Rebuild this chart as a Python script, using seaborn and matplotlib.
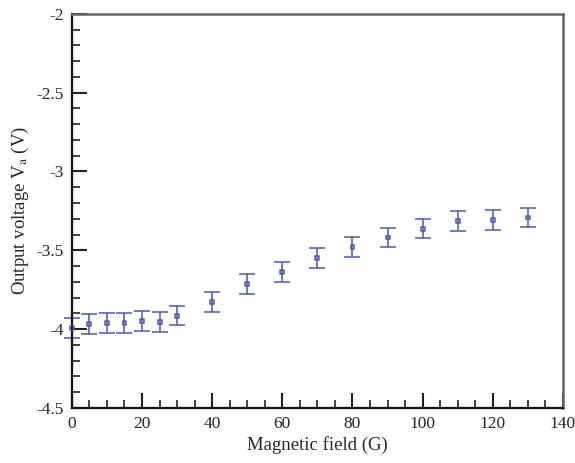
import matplotlib
matplotlib.use("Agg")
import matplotlib.pyplot as plt
import seaborn as sns
from matplotlib.ticker import MultipleLocator, FuncFormatter

# data
field = [0, 5, 10, 15, 20, 25, 30, 40, 50, 60, 70, 80, 90, 100, 110, 120, 130]
voltage = [-3.994, -3.965, -3.959, -3.959, -3.950, -3.954, -3.914, -3.830, -3.715,
           -3.635, -3.548, -3.478, -3.419, -3.362, -3.313, -3.307, -3.292]
err = [0.063] * len(field)

color = "#4a57b0"

sns.set_theme(style="white")
plt.rcParams['font.family'] = ['Liberation Serif', 'DejaVu Serif']
plt.rcParams['mathtext.fontset'] = 'stix'
plt.rcParams['xtick.direction'] = 'in'
plt.rcParams['ytick.direction'] = 'in'

fig = plt.figure(figsize=(5.75, 4.63), dpi=100)
ax = fig.add_axes([0.125, 0.119, 0.854, 0.851])

bars = ax.errorbar(field, voltage, yerr=err, fmt='none', ecolor=color, elinewidth=1.1,
                   capsize=5.6, capthick=1.1)
for artist in bars.lines[1] + bars.lines[2]:
    artist.set_clip_on(False)
sns.scatterplot(x=field, y=voltage, ax=ax, marker='s', s=8, facecolor='none',
                edgecolor=color, linewidth=1.1, zorder=3, clip_on=False)

ax.set_xlim(0, 140)
ax.set_ylim(-4.5, -2)
ax.xaxis.set_major_locator(MultipleLocator(20))
ax.xaxis.set_minor_locator(MultipleLocator(5))
ax.yaxis.set_major_locator(MultipleLocator(0.5))
ax.yaxis.set_minor_locator(MultipleLocator(0.1))
ax.yaxis.set_major_formatter(FuncFormatter(lambda v, p: f"{v:g}"))

ax.tick_params(which='major', direction='in', length=11, width=1.5, labelsize=12.5,
               color='#222222', pad=6, left=True, bottom=True, right=False, top=False)
ax.tick_params(which='minor', direction='in', length=6, width=1.2, color='#222222',
               left=True, bottom=True, right=False, top=False)

for side in ['left', 'bottom']:
    ax.spines[side].set_color('#111111')
    ax.spines[side].set_linewidth(1.6)
for side in ['top', 'right']:
    ax.spines[side].set_color('#666666')
    ax.spines[side].set_linewidth(1.8)

ax.set_xlabel("Magnetic field (G)", fontsize=13.5, labelpad=3)
ax.set_ylabel(r"Output voltage V$_\mathrm{a}$ (V)", fontsize=13.5, labelpad=4)

fig.savefig("out.png", dpi=100)
